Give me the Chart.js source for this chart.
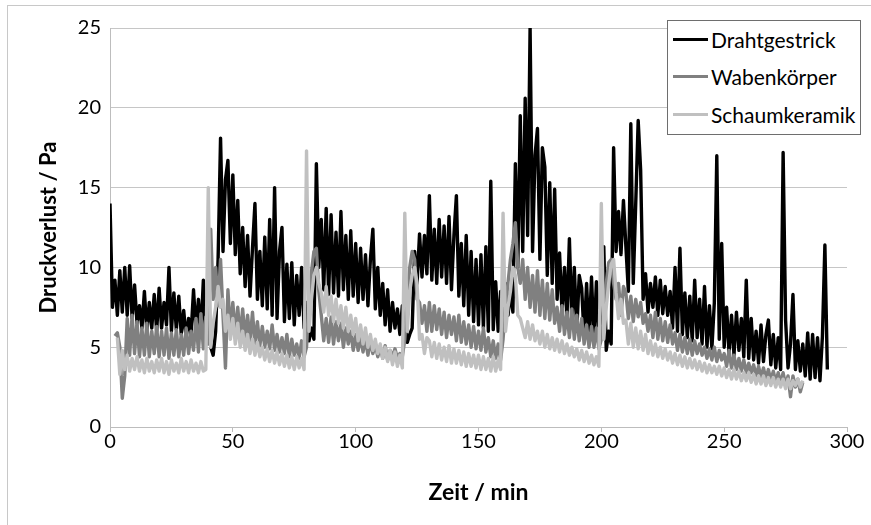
<!DOCTYPE html>
<html>
<head>
<meta charset="utf-8">
<script src="https://cdn.jsdelivr.net/npm/chart.js@4.4.1/dist/chart.umd.min.js"></script>
<style>
  html, body { margin: 0; padding: 0; background: #fff; }
  #wrap { position: relative; width: 871px; height: 525px; font-family: Lato, "Liberation Sans", sans-serif; }
  #frame { position: absolute; left: 7px; top: 5px; width: 880px; height: 540px; border-left: 1px solid #c8c8c8; border-top: 1px solid #c8c8c8; }
  #legend { position: absolute; left: 667px; top: 20px; width: 192px; height: 113px; border: 1px solid #6e6e6e; background: #fff; }
  .item { position: absolute; left: 5px; height: 26px; display: flex; align-items: center; font-size: 21px; color: #000; }
  .item span.line { display: inline-block; width: 35px; height: 3px; margin-right: 3px; }
</style>
</head>
<body>
<div id="wrap">
  <div id="frame"></div>
  <canvas id="chart" width="871" height="525"></canvas>
  <div id="legend"></div>
</div>
<script>
// Druckverlust-Messung, Werte in Pa, 1 Wert pro Minute
const serienNamen = ["Drahtgestrick", "Wabenkörper", "Schaumkeramik"];
const serienFarben = ["#000000", "#808080", "#c0c0c0"];
const xTicks = [0, 50, 100, 150, 200, 250, 300];
const yTicks = [0, 5, 10, 15, 20, 25];

const drahtStart = 0;
const draht = [
  14.0, 7.5, 9.2, 7.0, 9.8, 7.2, 10.0, 7.0, 10.1, 6.8,
  8.9, 6.5, 7.6, 6.2, 8.5, 6.0, 7.8, 6.2, 8.3, 6.0,
  8.7, 6.2, 7.8, 6.4, 10.0, 6.0, 8.4, 6.1, 8.2, 5.8,
  7.3, 5.6, 6.8, 5.8, 8.6, 6.0, 8.0, 5.8, 9.2, 5.5,
  7.5, 5.0, 4.5, 6.0, 10.5, 18.1, 11.0, 15.5, 16.7, 11.5,
  15.8, 10.8, 14.2, 9.6, 12.5, 8.8, 12.0, 8.2, 11.2, 14.0,
  8.0, 11.0, 7.6, 11.9, 7.4, 13.0, 7.0, 15.0, 6.8, 11.0,
  12.5, 6.6, 10.2, 6.8, 10.3, 6.4, 9.5, 7.0, 10.0, 6.2,
  7.8, 5.4, 6.2, 5.5, 16.5, 10.0, 13.0, 8.6, 13.7, 8.3,
  13.3, 8.4, 12.2, 8.2, 13.5, 8.6, 12.0, 8.0, 12.3, 8.2,
  11.5, 7.8, 11.2, 8.0, 10.8, 7.6, 10.5, 12.4, 7.4, 10.0,
  7.0, 9.0, 6.4, 8.6, 6.0, 7.8, 6.2, 7.4, 5.8, 7.6,
  6.5, 5.3, 5.8, 6.2, 11.0, 9.0, 12.1, 9.4, 12.0, 9.6,
  14.5, 9.2, 12.4, 9.0, 13.0, 9.4, 12.6, 9.0, 13.2, 8.6,
  12.0, 14.5, 8.2, 11.5, 7.6, 12.0, 7.0, 11.0, 6.6, 10.5,
  6.4, 10.8, 6.2, 11.3, 6.0, 15.4, 6.1, 9.1, 6.0, 8.5,
  6.5, 9.0, 7.0, 8.5, 7.2, 16.5, 10.0, 19.5, 11.0, 20.6,
  12.0, 25.0, 11.0, 17.0, 18.7, 10.5, 17.5, 16.3, 9.5, 15.3,
  9.0, 14.9, 8.0, 10.9, 7.2, 10.0, 6.8, 11.8, 6.5, 10.0,
  6.0, 9.5, 8.7, 5.6, 9.0, 5.5, 9.4, 5.4, 9.1, 5.6,
  6.5, 11.3, 4.8, 6.0, 5.2, 17.5, 11.0, 13.5, 10.8, 14.2,
  11.3, 8.5, 19.0, 9.0, 14.0, 19.2, 16.1, 8.0, 9.6, 7.2,
  9.0, 7.5, 9.4, 7.0, 9.2, 7.1, 8.8, 7.0, 8.5, 6.2,
  10.0, 6.0, 11.2, 5.8, 8.4, 5.6, 8.2, 5.4, 9.2, 5.6,
  8.0, 5.2, 8.8, 5.0, 7.6, 4.9, 7.8, 17.0, 5.5, 11.5,
  5.0, 7.5, 4.6, 7.0, 4.5, 7.2, 4.8, 6.8, 4.4, 9.2,
  4.3, 6.8, 4.2, 6.0, 4.0, 6.4, 4.1, 5.8, 6.7, 3.9,
  5.8, 3.7, 5.6, 3.6, 17.2, 6.7, 3.7, 5.2, 8.3, 3.6,
  5.4, 3.5, 5.2, 3.2, 5.9, 3.0, 5.8, 3.1, 5.6, 2.9,
  5.7, 11.4, 3.6
];

const wabenStart = 2;
const waben = [
  5.7, 5.9, 5.0, 1.8, 3.2, 6.8, 4.5, 7.0,
  4.6, 6.6, 4.4, 6.2, 4.5, 6.5, 4.4, 6.0, 4.6, 6.3,
  4.4, 6.0, 4.5, 6.2, 4.3, 5.9, 4.5, 6.1, 4.4, 5.8,
  4.5, 6.2, 4.6, 6.0, 4.8, 6.8, 4.7, 7.1, 4.9, 6.9,
  5.2, 12.4, 8.0, 10.0, 7.6, 10.5, 7.0, 3.7, 8.6, 6.0,
  7.8, 5.8, 7.5, 5.6, 7.4, 5.5, 7.0, 5.4, 7.2, 5.2,
  6.6, 5.1, 6.3, 5.0, 6.0, 4.9, 6.4, 4.8, 5.8, 4.7,
  5.6, 4.6, 5.8, 4.4, 5.5, 4.5, 5.2, 4.3, 5.4, 4.4,
  5.0, 8.0, 9.7, 11.0, 11.2, 8.5, 7.0, 5.4, 6.8, 5.3,
  6.9, 5.2, 6.6, 5.4, 6.5, 5.0, 6.2, 5.2, 6.0, 4.8,
  5.8, 4.8, 5.6, 4.7, 5.5, 4.5, 5.4, 4.6, 5.2, 4.4,
  5.0, 4.3, 5.1, 4.2, 4.8, 4.4, 4.9, 4.3, 4.6, 4.4,
  5.5, 8.0, 10.0, 11.0, 10.5, 8.0, 7.8, 6.5, 7.6, 6.0,
  7.8, 6.0, 7.6, 6.1, 7.4, 5.8, 7.2, 5.6, 7.0, 5.8,
  6.9, 5.4, 7.0, 5.3, 6.6, 5.2, 6.4, 5.0, 6.3, 4.9,
  6.0, 4.8, 6.2, 4.7, 5.6, 4.4, 5.4, 4.3, 5.2, 4.2,
  5.5, 7.5, 9.0, 10.5, 11.5, 12.8, 10.0, 9.0, 10.5, 8.0,
  10.0, 7.5, 9.5, 7.2, 9.8, 7.0, 9.2, 6.8, 9.0, 6.7,
  8.6, 6.5, 7.5, 6.0, 7.6, 5.8, 7.2, 5.6, 7.4, 5.5,
  7.0, 5.4, 6.8, 5.2, 6.4, 5.0, 6.3, 5.0, 6.2, 4.9,
  5.5, 7.0, 9.0, 10.3, 10.5, 9.0, 8.0, 9.0, 7.0, 8.8,
  8.4, 6.8, 8.2, 6.6, 8.0, 6.9, 7.8, 6.5, 7.1, 6.0,
  7.0, 5.6, 7.2, 5.5, 6.8, 5.4, 6.6, 5.3, 6.4, 5.2,
  5.9, 4.8, 5.8, 4.7, 5.6, 4.6, 5.5, 4.5, 5.4, 4.6,
  5.2, 4.5, 5.0, 4.3, 4.9, 4.2, 5.0, 4.1, 4.8, 4.2,
  4.6, 3.8, 4.8, 3.7, 4.5, 3.6, 4.3, 3.5, 4.2, 3.4,
  4.0, 3.4, 3.9, 3.2, 3.8, 3.1, 3.7, 3.0, 3.6, 2.9,
  3.5, 2.8, 3.4, 2.7, 3.4, 2.6, 3.2, 1.9, 3.2, 2.5,
  3.0, 2.2, 2.8
];

const schaumStart = 3;
const schaum = [
  5.6, 3.3, 4.8, 3.6, 4.5, 3.5, 4.3,
  3.6, 4.4, 3.5, 4.2, 3.4, 4.3, 3.5, 4.1, 3.4, 4.2,
  3.5, 4.3, 3.4, 4.1, 3.3, 4.2, 3.5, 4.0, 3.4, 4.3,
  3.5, 4.1, 3.4, 4.2, 3.5, 4.0, 3.4, 4.1, 3.5, 3.6,
  15.0, 5.0, 6.5, 7.5, 8.8, 7.5, 8.0, 6.0, 7.0, 5.5,
  6.8, 5.2, 6.5, 5.0, 6.0, 4.8, 5.8, 4.6, 5.5, 4.5,
  5.3, 4.4, 5.0, 4.2, 4.9, 4.1, 4.8, 4.0, 4.7, 3.9,
  4.6, 3.8, 4.5, 3.7, 4.4, 3.6, 4.4, 3.7, 4.3, 3.6,
  17.3, 6.0, 8.0, 9.5, 10.0, 9.0, 8.4, 7.2, 8.8, 7.0,
  8.2, 6.6, 8.0, 6.5, 7.6, 6.2, 7.5, 6.0, 7.0, 5.8,
  6.8, 5.4, 6.4, 5.2, 6.2, 5.0, 5.8, 4.8, 5.5, 4.6,
  5.2, 4.3, 5.0, 4.1, 4.8, 3.9, 4.7, 3.8, 4.5, 3.7,
  13.4, 6.0, 8.5, 9.5, 10.0, 9.0, 5.5, 5.8, 4.6, 5.6,
  5.4, 4.4, 5.3, 4.3, 5.2, 4.2, 5.0, 4.1, 5.1, 4.0,
  4.9, 4.0, 4.8, 3.9, 4.7, 3.8, 4.6, 3.8, 4.5, 3.7,
  4.5, 3.6, 4.4, 3.6, 4.3, 3.5, 4.4, 3.5, 4.2, 3.6,
  13.4, 6.0, 7.5, 8.5, 10.0, 9.5, 7.0, 6.8, 6.2, 5.6,
  6.6, 5.5, 6.4, 5.4, 6.0, 5.2, 6.0, 5.0, 5.8, 4.9,
  5.6, 4.8, 5.5, 4.7, 5.4, 4.6, 5.2, 4.5, 5.0, 4.4,
  4.9, 4.2, 4.8, 4.1, 4.7, 4.0, 4.5, 3.9, 4.4, 3.8,
  14.0, 5.5, 7.5, 9.0, 10.2, 10.5, 8.4, 6.8, 8.0, 6.5,
  6.7, 5.2, 6.5, 5.0, 6.2, 4.9, 6.0, 4.8, 5.8, 4.6,
  5.4, 4.5, 5.2, 4.4, 5.0, 4.3, 4.9, 4.2, 4.7, 4.0,
  4.6, 3.9, 4.5, 3.8, 4.4, 3.7, 4.3, 3.7, 4.2, 3.6,
  4.1, 3.5, 4.0, 3.4, 3.9, 3.4, 3.8, 3.3, 3.8, 3.2,
  3.7, 3.1, 3.6, 3.0, 3.6, 3.0, 3.5, 2.9, 3.4, 2.9,
  3.4, 2.8, 3.3, 2.7, 3.2, 2.7, 3.2, 2.6, 3.1, 2.6,
  3.1, 2.5, 3.0, 2.5, 3.0, 2.4, 3.0, 2.4, 2.9, 2.6,
  3.0, 2.5, 2.9
];

function toPoints(start, values){
  return values.map((v, i) => ({ x: start + i, y: v }));
}

const serien = [
  toPoints(drahtStart, draht),
  toPoints(wabenStart, waben),
  toPoints(schaumStart, schaum)
];

const FONT = "Lato, 'Liberation Sans', sans-serif";

const chart = new Chart(document.getElementById("chart"), {
  type: "line",
  data: {
    datasets: serien.map((data, i) => ({
      label: serienNamen[i],
      data,
      borderColor: serienFarben[i],
      backgroundColor: serienFarben[i],
      borderWidth: 3.4,
      borderJoinStyle: "round",
      pointRadius: 0,
      tension: 0,
      fill: false,
      order: 3 - i
    }))
  },
  options: {
    responsive: false,
    animation: false,
    devicePixelRatio: 1,
    layout: { padding: { top: 28, right: 24, left: 0, bottom: 0 } },
    plugins: { legend: { display: false }, tooltip: { enabled: false } },
    scales: {
      x: {
        type: "linear",
        min: 0, max: 300,
        afterBuildTicks: s => { s.ticks = xTicks.map(v => ({ value: v })); },
        afterFit: s => { s.height = 98; },
        grid: { drawOnChartArea: false, drawTicks: true, tickLength: 5, color: "#bdbdbd" },
        border: { color: "#bdbdbd", width: 1 },
        ticks: { padding: -2, color: "#000", font: { family: FONT, size: 20 } },
        title: { display: true, text: "Zeit / min", color: "#000", font: { family: FONT, size: 23, weight: "bold" }, padding: { bottom: 19 } }
      },
      y: {
        min: 0, max: 25,
        afterBuildTicks: s => { s.ticks = yTicks.map(v => ({ value: v })); },
        afterFit: s => { s.width = 110; },
        grid: { drawTicks: false, color: "#c6c6c6", lineWidth: 1 },
        border: { color: "#bdbdbd", width: 1 },
        ticks: { padding: 9, color: "#000", font: { family: FONT, size: 20 } },
        title: { display: true, text: "Druckverlust / Pa", color: "#000", font: { family: FONT, size: 22, weight: "bold" }, padding: { top: 36 } }
      }
    }
  }
});

// Legende als HTML-Kasten oben rechts
const legend = document.getElementById("legend");
chart.data.datasets.forEach((ds, i) => {
  const row = document.createElement("div");
  row.className = "item";
  row.style.top = (5 + i * 37.5) + "px";
  const line = document.createElement("span");
  line.className = "line";
  line.style.background = ds.borderColor;
  const txt = document.createElement("span");
  txt.textContent = ds.label;
  row.appendChild(line);
  row.appendChild(txt);
  legend.appendChild(row);
});
</script>
</body>
</html>
